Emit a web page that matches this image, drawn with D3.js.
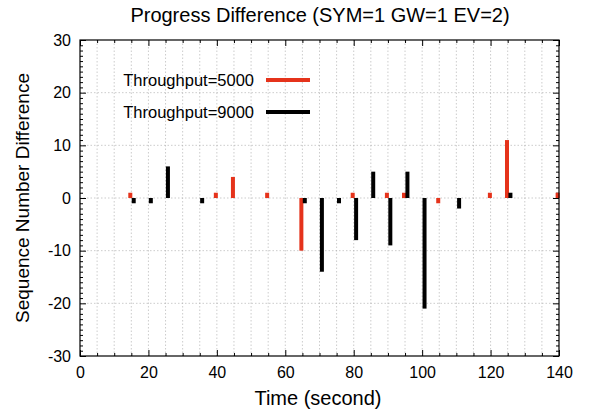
<!DOCTYPE html>
<html><head><meta charset="utf-8">
<script src="https://cdn.jsdelivr.net/npm/d3@7"></script>
<style>body{margin:0;background:#fff}svg{display:block}text{font-family:"Liberation Sans",Arial,Helvetica,sans-serif;fill:#000}</style>
</head><body>
<svg id="c" width="590" height="413"></svg>
<script>
const seriesNames = ["Throughput=5000", "Throughput=9000"];
const seriesColors = ["#e5331b", "#000000"];
const redTimes  = [14.7, 39.7, 44.7, 54.7, 64.7, 79.7, 89.7, 94.7, 104.7, 119.8, 124.8, 139.6];
const redValues = [1, 1, 4, 1, -10, 1, 1, 1, -1, 1, 11, 1];
const blackTimes  = [15.7, 20.7, 25.7, 35.7, 65.7, 70.7, 75.7, 80.7, 85.7, 90.7, 95.7, 100.7, 110.8, 125.8];
const blackValues = [-1, -1, 6, -1, -1, -14, -1, -8, 5, -9, 5, -21, -2, 1];
const xTicks = [0, 20, 40, 60, 80, 100, 120, 140];
const yTicks = [-30, -20, -10, 0, 10, 20, 30];

const svg = d3.select("#c");
const L = 80, R = 559, T = 40, B = 356;
const x = d3.scaleLinear().domain([0, 140]).range([L, R]);
const y = d3.scaleLinear().domain([-30, 30]).range([B, T]);

// grid
const g = svg.append("g");
const xGrid = d3.range(5, 140, 5);
g.selectAll("line.gx").data(xGrid).join("line")
  .attr("x1", d => x(d)).attr("x2", d => x(d)).attr("y1", T).attr("y2", B)
  .attr("stroke", "#aaa").attr("stroke-width", 0.6).attr("stroke-dasharray", "1.5,2");
g.selectAll("line.gy").data(yTicks.slice(1, -1)).join("line")
  .attr("x1", L).attr("x2", R).attr("y1", d => y(d)).attr("y2", d => y(d))
  .attr("stroke", "#aaa").attr("stroke-width", 0.6).attr("stroke-dasharray", "1.5,2");

// axes with ticks
const minorX = d3.range(0, 141, 5).filter(d => d % 20 !== 0);
const minorY = d3.range(-30, 31, 1).filter(d => d % 10 !== 0);
const fmt = d => String(d);
function axisG(axis, tx, ty) {
  const a = svg.append("g").attr("transform", `translate(${tx},${ty})`).call(axis);
  a.select(".domain").remove();
  a.selectAll("line").attr("stroke", "#000").attr("stroke-width", 1);
  return a;
}
// bottom
const ab = axisG(d3.axisBottom(x).tickValues(xTicks).tickSize(-6).tickPadding(11).tickFormat(fmt), 0, B);
ab.selectAll("text").attr("font-size", 16).attr("font-family", null);
axisG(d3.axisBottom(x).tickValues(minorX).tickSize(-3).tickFormat(""), 0, B);
// top
axisG(d3.axisTop(x).tickValues(xTicks).tickSize(-6).tickFormat(""), 0, T);
axisG(d3.axisTop(x).tickValues(minorX).tickSize(-3).tickFormat(""), 0, T);
// left
const al = axisG(d3.axisLeft(y).tickValues(yTicks).tickSize(-6).tickPadding(9).tickFormat(fmt), L, 0);
al.selectAll("text").attr("font-size", 16).attr("font-family", null);
axisG(d3.axisLeft(y).tickValues(minorY).tickSize(-3).tickFormat(""), L, 0);
// right
axisG(d3.axisRight(y).tickValues(yTicks).tickSize(-6).tickFormat(""), R, 0);
axisG(d3.axisRight(y).tickValues(minorY).tickSize(-3).tickFormat(""), R, 0);

// bars
const series = [
  {name: seriesNames[0], color: seriesColors[0], data: redTimes.map((t, i) => ({t, v: redValues[i]}))},
  {name: seriesNames[1], color: seriesColors[1], data: blackTimes.map((t, i) => ({t, v: blackValues[i]}))}
];
const bw = 4;
series.forEach(s => {
  svg.append("g").selectAll("rect").data(s.data).join("rect")
    .attr("x", d => x(d.t) - bw / 2).attr("width", bw)
    .attr("y", d => Math.min(y(d.v), y(0)))
    .attr("height", d => Math.abs(y(d.v) - y(0)))
    .attr("fill", s.color);
});

// frame
svg.append("rect").attr("x", L).attr("y", T).attr("width", R - L).attr("height", B - T)
  .attr("fill", "none").attr("stroke", "#000").attr("stroke-width", 1.2);

// legend
series.forEach((s, i) => {
  const ly = 80 + i * 32;
  svg.append("text").attr("x", 254).attr("y", ly).attr("dy", "0.35em")
    .attr("text-anchor", "end").attr("font-size", 16.5).text(s.name);
  svg.append("line").attr("x1", 266).attr("x2", 310).attr("y1", ly).attr("y2", ly)
    .attr("stroke", s.color).attr("stroke-width", 4);
});

// titles
svg.append("text").attr("x", 320).attr("y", 15).attr("dy", "0.35em").attr("text-anchor", "middle")
  .attr("font-size", 20).text("Progress Difference (SYM=1 GW=1 EV=2)");
svg.append("text").attr("x", 318).attr("y", 398).attr("dy", "0.35em").attr("text-anchor", "middle")
  .attr("font-size", 20).text("Time (second)");
svg.append("text").attr("transform", `translate(22,${(T + B) / 2}) rotate(-90)`).attr("dy", "0.35em")
  .attr("text-anchor", "middle").attr("font-size", 19).text("Sequence Number Difference");
</script>
</body></html>
